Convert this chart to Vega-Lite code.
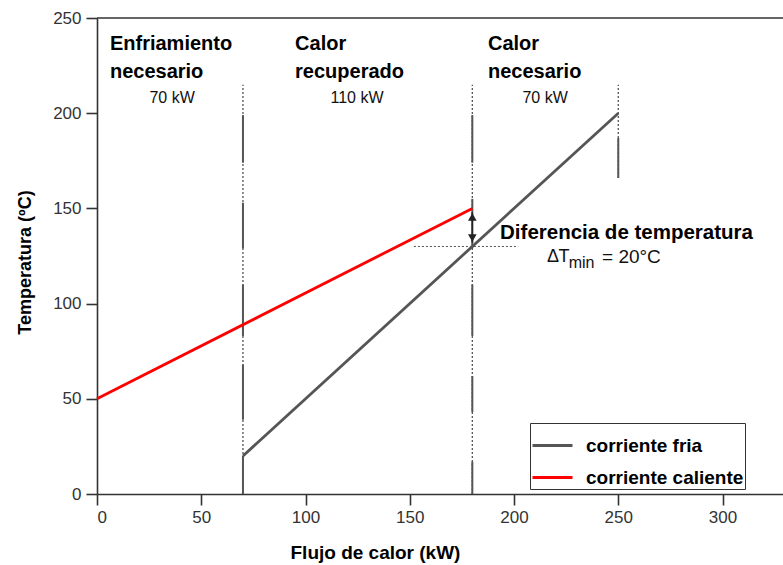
{
  "$schema": "https://vega.github.io/schema/vega-lite/v6.json",
  "width": 686,
  "height": 476,
  "autosize": "none",
  "padding": {"left": 97, "top": 18, "right": 0, "bottom": 71},
  "background": "white",
  "config": {
    "view": {"stroke": null},
    "font": "Liberation Sans",
    "axis": {
      "grid": false,
      "domainColor": "#333333",
      "domainWidth": 1.6,
      "tickColor": "#333333",
      "tickWidth": 1.6,
      "tickSize": 11,
      "labelFont": "Liberation Sans",
      "labelFontSize": 17,
      "labelColor": "#333333",
      "titleFont": "Liberation Sans",
      "titleFontSize": 18,
      "titleFontWeight": "bold",
      "titleColor": "#000000"
    }
  },
  "datasets": {
    "streams": [
      {"x": 70, "y": 20, "stream": "corriente fria"},
      {"x": 250, "y": 200, "stream": "corriente fria"},
      {"x": 0, "y": 50, "stream": "corriente caliente"},
      {"x": 180, "y": 150, "stream": "corriente caliente"}
    ],
    "dotted": [
      {"x": 70, "y1": 0, "y2": 215},
      {"x": 180, "y1": 0, "y2": 215},
      {"x": 250, "y1": 166, "y2": 215}
    ],
    "solid": [
      {"x": 70, "y1": 174, "y2": 199},
      {"x": 70, "y1": 129, "y2": 153},
      {"x": 70, "y1": 83, "y2": 110},
      {"x": 70, "y1": 39, "y2": 68},
      {"x": 70, "y1": 0, "y2": 20},
      {"x": 180, "y1": 174, "y2": 199},
      {"x": 180, "y1": 129, "y2": 155},
      {"x": 180, "y1": 83, "y2": 110},
      {"x": 180, "y1": 43, "y2": 62},
      {"x": 180, "y1": 0, "y2": 17},
      {"x": 250, "y1": 166, "y2": 187}
    ],
    "labelsBold": [
      {"x": 6.2, "y": 241.5, "text": "Enfriamiento\nnecesario"},
      {"x": 95, "y": 241.5, "text": "Calor\nrecuperado"},
      {"x": 187.5, "y": 241.5, "text": "Calor\nnecesario"}
    ],
    "labelsKw": [
      {"x": 36, "y": 212, "text": "70 kW"},
      {"x": 124.7, "y": 212, "text": "110 kW"},
      {"x": 214.9, "y": 212, "text": "70 kW"}
    ]
  },
  "layer": [
    {
      "data": {"values": [{"y": 250}]},
      "mark": {"type": "rule", "color": "#333333", "strokeWidth": 1.6},
      "encoding": {"y": {"field": "y", "type": "quantitative"}}
    },
    {
      "data": {"name": "dotted"},
      "mark": {"type": "rule", "color": "#555555", "strokeWidth": 1.3, "strokeDash": [2, 2]},
      "encoding": {
        "x": {"field": "x", "type": "quantitative"},
        "y": {"field": "y1", "type": "quantitative"},
        "y2": {"field": "y2"}
      }
    },
    {
      "data": {"name": "solid"},
      "mark": {"type": "rule", "color": "#555555", "strokeWidth": 2},
      "encoding": {
        "x": {"field": "x", "type": "quantitative"},
        "y": {"field": "y1", "type": "quantitative"},
        "y2": {"field": "y2"}
      }
    },
    {
      "data": {"values": [{"x": 152, "x2": 202, "y": 130}]},
      "mark": {"type": "rule", "color": "#555555", "strokeWidth": 1, "strokeDash": [2, 2]},
      "encoding": {
        "x": {"field": "x", "type": "quantitative"},
        "x2": {"field": "x2"},
        "y": {"field": "y", "type": "quantitative"}
      }
    },
    {
      "data": {"name": "streams"},
      "mark": {"type": "line", "strokeWidth": 2.8},
      "encoding": {
        "x": {
          "field": "x", "type": "quantitative",
          "scale": {"domain": [0, 329], "nice": false, "zero": false},
          "axis": {"values": [0, 50, 100, 150, 200, 250, 300], "title": "Flujo de calor (kW)", "titleFontSize": 19, "labelPadding": 4, "titleX": 193, "titleY": 64, "titleAlign": "left", "titleBaseline": "alphabetic", "titleAnchor": null}
        },
        "y": {
          "field": "y", "type": "quantitative",
          "scale": {"domain": [0, 250], "nice": false},
          "axis": {"values": [0, 50, 100, 150, 200, 250], "title": "Temperatura (ºC)", "labelPadding": 5, "titleX": -72, "titleY": 244, "titleAngle": 270, "titleAlign": "center", "titleBaseline": "middle"}
        },
        "color": {
          "field": "stream", "type": "nominal",
          "scale": {"domain": ["corriente fria", "corriente caliente"], "range": ["#555555", "#ff0000"]},
          "legend": {
            "title": null,
            "orient": "none",
            "legendX": 433,
            "legendY": 405,
            "symbolType": "stroke",
            "symbolSize": 1600,
            "symbolStrokeWidth": 2.8,
            "labelFont": "Liberation Sans",
            "labelFontSize": 19,
            "labelFontWeight": "bold",
            "labelColor": "#000000",
            "labelOffset": 12,
            "rowPadding": -9,
            "padding": 1,
            "strokeColor": "#333333",
            "fillColor": "white"
          }
        },
        "detail": {"field": "stream"}
      }
    },
    {
      "data": {"values": [{"x": 180, "y1": 132, "y2": 148}]},
      "mark": {"type": "rule", "color": "#222222", "strokeWidth": 1.5},
      "encoding": {
        "x": {"field": "x", "type": "quantitative"},
        "y": {"field": "y1", "type": "quantitative"},
        "y2": {"field": "y2"}
      }
    },
    {
      "data": {"values": [{"x": 180, "y": 145.5, "dir": "up"}, {"x": 180, "y": 134.5, "dir": "down"}]},
      "mark": {"type": "point", "filled": true, "color": "#222222", "size": 75, "opacity": 1},
      "encoding": {
        "x": {"field": "x", "type": "quantitative"},
        "y": {"field": "y", "type": "quantitative"},
        "shape": {"field": "dir", "type": "nominal", "scale": {"domain": ["up", "down"], "range": ["triangle-up", "triangle-down"]}, "legend": null}
      }
    },
    {
      "data": {"name": "labelsBold"},
      "mark": {"type": "text", "align": "left", "baseline": "top", "font": "Liberation Sans", "fontSize": 20, "fontWeight": "bold", "lineBreak": "\n", "lineHeight": 28, "color": "#000000"},
      "encoding": {
        "x": {"field": "x", "type": "quantitative"},
        "y": {"field": "y", "type": "quantitative"},
        "text": {"field": "text"}
      }
    },
    {
      "data": {"name": "labelsKw"},
      "mark": {"type": "text", "align": "center", "baseline": "top", "font": "Liberation Sans", "fontSize": 16, "color": "#111111"},
      "encoding": {
        "x": {"field": "x", "type": "quantitative"},
        "y": {"field": "y", "type": "quantitative"},
        "text": {"field": "text"}
      }
    },
    {
      "data": {"values": [{"x": 193.3, "y": 137, "text": "Diferencia de temperatura"}]},
      "mark": {"type": "text", "align": "left", "baseline": "middle", "font": "Liberation Sans", "fontSize": 20.5, "fontWeight": "bold", "color": "#000000"},
      "encoding": {
        "x": {"field": "x", "type": "quantitative"},
        "y": {"field": "y", "type": "quantitative"},
        "text": {"field": "text"}
      }
    },
    {
      "data": {"values": [
        {"x": 215.8, "y": 124.5, "text": "Δ", "style": "normal", "size": 18},
        {"x": 221.3, "y": 124.5, "text": "T", "style": "italic", "size": 18},
        {"x": 226.2, "y": 121.5, "text": "min", "style": "normal", "size": 16},
        {"x": 242.2, "y": 124.5, "text": "= 20°C", "style": "normal", "size": 19}
      ]},
      "mark": {"type": "text", "align": "left", "baseline": "middle", "font": "Liberation Sans", "color": "#111111"},
      "encoding": {
        "x": {"field": "x", "type": "quantitative"},
        "y": {"field": "y", "type": "quantitative"},
        "text": {"field": "text"},
        "fontStyle": {"field": "style", "type": "nominal", "scale": null},
        "size": {"field": "size", "type": "quantitative", "scale": null}
      }
    }
  ]
}
